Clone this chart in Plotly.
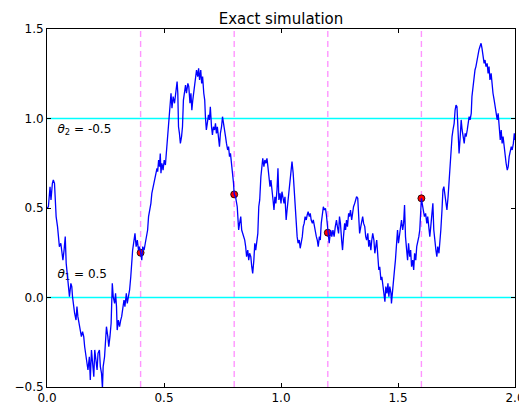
import plotly.graph_objects as go

# ---- data ----
path_t = [
 0.000,0.006,0.013,0.017,0.023,0.027,0.032,0.034,0.039,0.045,0.049,0.053,0.059,0.063,0.068,0.073,0.078,0.082,0.088,0.093,
 0.096,0.102,0.106,0.109,0.114,0.118,0.124,0.128,0.132,0.138,0.142,0.147,0.152,0.157,0.161,0.167,0.171,0.175,0.181,0.185,
 0.190,0.195,0.200,0.204,0.210,0.214,0.218,0.224,0.228,0.233,0.237,0.240,0.246,0.250,0.254,0.260,0.264,0.269,0.274,0.279,
 0.283,0.289,0.293,0.297,0.300,0.305,0.310,0.315,0.319,0.325,0.329,0.333,0.339,0.343,0.348,0.353,0.358,0.362,0.366,0.372,
 0.376,0.381,0.386,0.391,0.395,0.400,0.405,0.409,0.415,0.420,0.425,0.430,0.434,0.440,0.444,
 0.448,0.451,0.455,0.458,0.461,0.466,0.470,0.473,0.477,0.481,0.484,0.487,0.491,0.496,0.501,0.506,0.509,0.513,0.516,0.519,
 0.523,0.527,0.530,0.534,0.539,0.545,0.549,0.553,0.556,0.559,0.562,0.566,0.570,0.575,0.579,0.583,0.588,0.592,0.596,0.602,
 0.606,0.611,0.615,0.619,0.623,0.628,0.631,0.635,0.639,0.644,0.648,0.652,0.657,0.661,0.665,0.670,0.674,0.677,0.681,0.685,
 0.690,0.694,0.698,0.703,0.707,0.711,0.716,0.720,0.724,0.728,0.733,0.737,0.741,0.746,0.750,0.754,0.759,0.763,0.767,0.772,
 0.776,0.780,0.784,0.789,0.793,0.797,0.800,0.806,0.813,0.816,0.819,0.823,0.828,0.832,0.836,0.841,0.845,0.849,0.853,0.858,
 0.862,0.866,0.871,
 0.875,0.879,0.884,0.888,0.892,0.897,0.901,0.905,0.909,0.914,0.918,0.922,0.927,0.931,0.935,0.940,0.944,0.948,0.953,0.957,
 0.961,0.966,0.970,0.974,0.978,0.983,0.987,0.991,0.996,1.000,1.004,1.009,1.013,1.017,1.022,1.026,1.030,1.034,1.039,1.043,
 1.047,1.052,1.056,1.060,1.065,1.069,1.073,1.078,1.082,1.086,1.091,1.095,1.099,1.103,1.108,1.112,1.116,1.121,1.125,1.129,
 1.134,1.138,1.142,1.147,1.151,1.155,1.159,1.164,1.168,1.172,1.177,1.181,1.185,1.190,1.194,1.197,1.200,1.206,1.212,1.217,
 1.222,1.227,1.232,1.237,1.241,1.246,1.250,1.254,1.259,1.263,1.267,1.272,1.276,1.280,1.284,1.289,1.293,1.297,1.302,1.306,
 1.310,1.315,1.319,1.323,1.328,1.332,1.336,1.341,1.345,1.349,1.353,1.358,1.362,1.366,1.371,1.375,1.379,1.384,1.388,1.392,
 1.397,1.401,1.405,1.409,1.414,1.418,1.422,1.427,1.431,1.435,1.440,1.444,1.448,1.453,1.457,1.461,1.465,1.470,
 1.472,1.476,1.481,1.485,1.489,1.494,1.498,1.502,1.507,1.511,1.515,1.520,1.524,1.528,1.532,1.537,1.541,1.545,1.550,1.554,
 1.558,1.563,1.567,1.571,1.576,1.580,1.584,1.589,1.593,1.595,1.598,1.600,1.608,1.613,1.618,1.623,1.627,1.632,1.636,1.640,
 1.645,1.649,1.653,1.657,1.662,1.666,1.670,1.675,1.679,1.683,1.688,1.692,1.696,1.701,1.705,1.709,1.714,1.718,1.722,1.727,
 1.731,1.735,1.740,1.744,1.748,1.752,1.757,1.761,1.765,1.770,1.774,1.778,1.783,1.787,1.791,1.796,1.800,1.804,1.808,1.813,
 1.816,1.820,1.824,1.829,1.833,1.837,1.842,1.846,1.850,1.855,1.859,1.863,1.868,1.872,1.876,1.881,1.885,1.889,1.893,1.898,
 1.902,1.906,1.911,1.915,1.919,1.924,1.928,1.932,1.937,1.941,1.945,1.949,1.954,1.958,1.962,1.967,1.971,1.975,1.980,1.984,
 1.988,1.993,1.997,2.000]

path_y = [
 0.498,0.507,0.619,0.545,0.638,0.657,0.638,0.582,0.452,0.396,0.340,0.284,0.303,0.247,0.209,0.265,0.340,0.191,0.116,0.042,
 0.005,0.079,0.061,0.005,-0.051,-0.088,-0.126,-0.051,-0.107,-0.163,-0.200,-0.219,-0.191,-0.219,-0.275,-0.331,-0.386,-0.405,-0.331,-0.461,
 -0.293,-0.368,-0.442,-0.293,-0.386,-0.405,-0.312,-0.293,-0.386,-0.424,-0.507,-0.386,-0.331,-0.219,-0.163,-0.219,-0.275,-0.219,-0.144,0.079,
 0.005,-0.033,0.023,-0.051,-0.182,-0.126,-0.163,-0.126,-0.107,-0.051,-0.014,-0.051,0.023,-0.033,0.005,0.042,0.116,0.209,0.265,0.321,
 0.358,0.284,0.321,0.265,0.284,0.250,0.209,0.284,0.265,0.303,0.340,0.377,0.452,0.489,0.526,
 0.582,0.601,0.638,0.656,0.675,0.694,0.722,0.703,0.768,0.731,0.805,0.694,0.750,0.712,0.768,0.740,0.787,0.843,0.917,0.973,
 1.029,1.085,1.141,1.057,1.122,1.085,1.141,1.178,1.206,1.141,0.954,0.917,0.861,0.899,0.954,1.103,1.159,1.187,1.141,1.196,
 1.178,1.085,1.141,1.047,1.103,1.159,1.169,1.215,1.271,1.234,1.280,1.215,1.271,1.196,1.234,1.141,1.103,1.010,0.936,0.973,
 1.020,0.992,1.066,0.954,0.908,0.954,0.936,0.973,0.917,0.954,0.899,0.843,0.917,0.954,1.010,0.982,0.936,0.899,0.861,0.824,
 0.843,0.787,0.805,0.750,0.700,0.640,0.576,0.560,0.507,0.452,0.377,0.414,0.452,0.377,0.358,0.340,0.321,0.284,0.228,0.265,
 0.209,0.247,0.228,
 0.172,0.135,0.209,0.303,0.265,0.321,0.358,0.507,0.545,0.675,0.750,0.777,0.731,0.768,0.750,0.777,0.731,0.694,0.619,0.656,
 0.582,0.545,0.489,0.563,0.526,0.601,0.722,0.545,0.582,0.526,0.591,0.545,0.526,0.563,0.433,0.489,0.545,0.619,0.675,0.731,
 0.759,0.694,0.601,0.507,0.414,0.340,0.303,0.321,0.275,0.303,0.340,0.396,0.414,0.452,0.433,0.461,0.480,0.452,0.470,0.433,
 0.414,0.433,0.396,0.358,0.340,0.321,0.284,0.340,0.321,0.414,0.470,0.507,0.489,0.498,0.461,0.420,0.362,0.303,0.377,0.340,
 0.377,0.340,0.396,0.433,0.396,0.358,0.452,0.414,0.321,0.265,0.340,0.414,0.377,0.433,0.396,0.470,0.452,0.489,0.433,0.489,
 0.507,0.526,0.545,0.563,0.554,0.470,0.358,0.396,0.433,0.452,0.414,0.396,0.340,0.321,0.358,0.284,0.321,0.265,0.321,0.358,
 0.321,0.247,0.284,0.321,0.228,0.154,0.172,0.098,0.116,0.061,0.023,-0.023,0.061,0.023,0.079,0.005,0.061,0.023,
 -0.033,0.042,0.098,0.154,0.209,0.321,0.377,0.303,0.358,0.396,0.433,0.377,0.414,0.517,0.340,0.265,0.209,0.303,0.228,0.265,
 0.172,0.209,0.154,0.247,0.209,0.284,0.303,0.340,0.377,0.430,0.500,0.554,0.489,0.452,0.470,0.414,0.452,0.377,0.340,0.396,
 0.470,0.526,0.377,0.303,0.265,0.228,0.284,0.247,0.303,0.377,0.489,0.601,0.619,0.563,0.526,0.489,0.563,0.656,0.712,0.805,
 0.899,0.936,0.973,1.047,1.075,1.066,0.843,0.805,0.880,0.992,0.936,0.899,0.861,0.917,0.899,0.936,0.973,1.010,0.992,1.029,
 1.122,1.178,1.234,1.271,1.290,1.327,1.346,1.383,1.401,1.420,1.392,1.346,1.308,1.327,1.290,1.308,1.252,1.290,1.215,1.252,
 1.178,1.141,1.103,1.066,1.047,0.992,1.029,0.936,0.880,0.936,0.861,0.899,0.824,0.787,0.750,0.712,0.731,0.787,0.824,0.843,
 0.824,0.861,0.917,0.880]

obs_t = [0.4, 0.8, 1.2, 1.6]
obs_y = [0.250, 0.576, 0.362, 0.554]

barrier_levels = [0.0, 1.0]
split_times = [0.4, 0.8, 1.2, 1.6]

label_text = ["<i>θ</i><sub>2</sub> = -0.5", "<i>θ</i><sub>1</sub> = 0.5"]
label_x = [0.045, 0.045]
label_y = [0.936, 0.126]

title = "Exact simulation"
x_ticks = [0.0, 0.5, 1.0, 1.5, 2.0]
x_tick_text = ["0.0", "0.5", "1.0", "1.5", "2.0"]
y_ticks = [-0.5, 0.0, 0.5, 1.0, 1.5]
y_tick_text = ["\u22120.5", "0.0", "0.5", "1.0", "1.5"]

FONT = "DejaVu Sans"

fig = go.Figure()

# text labels (drawn under the path like the reference)
fig.add_trace(go.Scatter(x=label_x, y=label_y, mode="text", text=label_text,
                         textposition="middle right",
                         textfont=dict(family=FONT, size=12, color="black"),
                         showlegend=False, hoverinfo="skip"))

# observation markers (under the path)
fig.add_trace(go.Scatter(x=obs_t, y=obs_y, mode="markers",
                         marker=dict(color="red", size=7, line=dict(color="black", width=0.8)),
                         showlegend=False, cliponaxis=True))

# path
fig.add_trace(go.Scatter(x=path_t, y=path_y, mode="lines",
                         line=dict(color="#0000ff", width=1.3),
                         showlegend=False))

shapes = []
for lv in barrier_levels:
    shapes.append(dict(type="line", xref="x domain", yref="y", x0=0, x1=1, y0=lv, y1=lv,
                       line=dict(color="#00ffff", width=1.6), layer="below"))
for st in split_times:
    shapes.append(dict(type="line", xref="x", yref="y domain", x0=st, x1=st, y0=0, y1=1,
                       line=dict(color="rgba(255,0,255,0.42)", width=1.4, dash="6px,4px"),
                       layer="below"))

# the page body adds an 8px offset; the figure is sized/margined to compensate
fig.update_layout(
    width=519, height=395,
    margin=dict(l=39, r=12, t=21, b=16),
    paper_bgcolor="white", plot_bgcolor="white",
    template="none",
    shapes=shapes,
    title=dict(text=title, x=0.5, xref="paper", xanchor="center",
               y=1 - 11 / 395, yref="container", yanchor="middle",
               font=dict(family=FONT, size=15, color="black")),
    font=dict(family=FONT, size=12, color="black"),
    showlegend=False,
)
axis_common = dict(showgrid=False, zeroline=False, showline=True, linecolor="black", linewidth=1,
                   mirror="ticks", ticks="inside", ticklen=4, tickwidth=1, tickcolor="black",
                   tickfont=dict(family=FONT, size=12, color="black"), automargin=False)
fig.update_xaxes(range=[0, 2], tickvals=x_ticks, ticktext=x_tick_text, **axis_common)
fig.update_yaxes(range=[-0.5, 1.5], tickvals=y_ticks, ticktext=y_tick_text, **axis_common)

fig.write_html("out.html")
